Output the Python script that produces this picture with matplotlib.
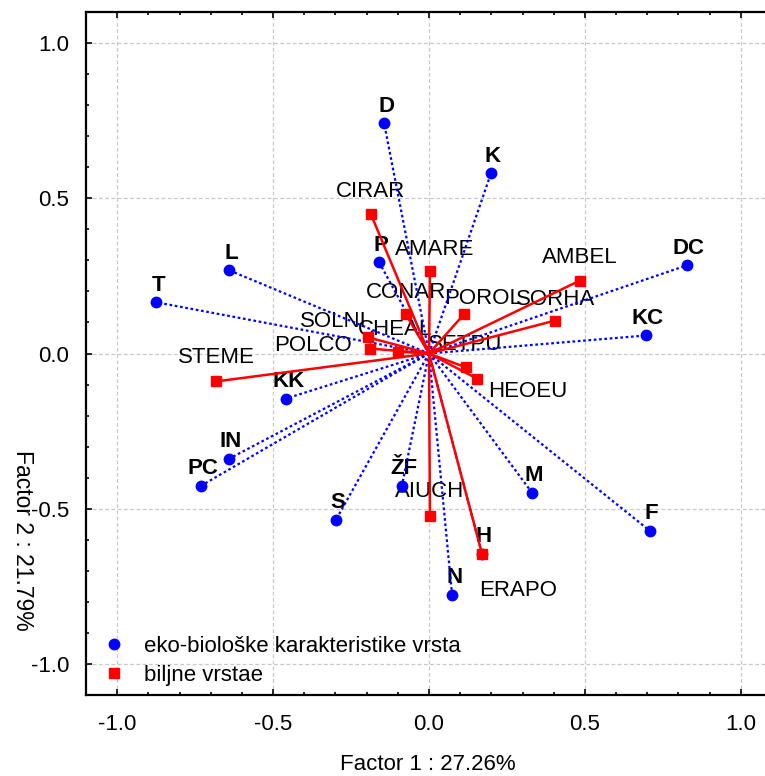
import matplotlib
matplotlib.use("Agg")
import matplotlib.pyplot as plt
from matplotlib.lines import Line2D
from matplotlib.ticker import MultipleLocator, FormatStrFormatter

plt.rcParams['font.family'] = ['Liberation Sans', 'DejaVu Sans']

# ------------------------------------------------------------------ data
# eko-biološke karakteristike vrsta (blue points)
eko_names = ["D", "K", "L", "T", "P", "DC", "KC", "KK", "IN", "PC",
             "S", "ŽF", "M", "F", "N", "H"]
eko_f1 = [-0.144, 0.199, -0.641, -0.875, -0.160, 0.827, 0.696, -0.458, -0.641, -0.731,
          -0.298, -0.087, 0.330, 0.708, 0.074, 0.170]
eko_f2 = [0.742, 0.581, 0.268, 0.165, 0.294, 0.284, 0.058, -0.145, -0.339, -0.426,
          -0.535, -0.426, -0.448, -0.571, -0.777, -0.645]

# biljne vrstae (red squares)
bilj_names = ["CIRAR", "AMARE", "AMBEL", "SORHA", "POROL", "CONAR", "SOLNI", "CHEAL",
              "POLCO", "STEME", "SETPU", "HEOEU", "AIUCH", "ERAPO"]
bilj_f1 = [-0.186, 0.003, 0.484, 0.404, 0.112, -0.074, -0.196, -0.099,
           -0.189, -0.683, 0.119, 0.154, 0.003, 0.170]
bilj_f2 = [0.448, 0.265, 0.235, 0.106, 0.126, 0.126, 0.052, 0.006,
           0.016, -0.090, -0.045, -0.081, -0.523, -0.645]

# label offsets (pixels, text centre relative to point) for the red labels
bilj_offsets = {"CIRAR": (-1, 23), "AMARE": (5, 22), "AMBEL": (0, 23), "SORHA": (1, 21),
                "POROL": (19, 16), "CONAR": (0, 22), "SOLNI": (-35, 16), "CHEAL": (-3, 22),
                "POLCO": (-57, 3), "STEME": (0, 24), "SETPU": (-1, 23), "HEOEU": (51, -13),
                "AIUCH": (0, 24), "ERAPO": (36, -37)}

BLUE = "#0000ff"
RED = "#ff0000"

# ------------------------------------------------------------------ figure
fig = plt.figure(figsize=(7.65, 7.76), dpi=100)
ax = fig.add_axes([86 / 765, 81 / 776, 686 / 765, 683 / 776])

for x, y in zip(eko_f1, eko_f2):
    ax.plot([0, x], [0, y], color=BLUE, lw=1.6, ls=(0, (1.2, 1.2)), zorder=3)
for x, y in zip(bilj_f1, bilj_f2):
    ax.plot([0, x], [0, y], color=RED, lw=1.8, zorder=4)

ax.plot(eko_f1, eko_f2, ls="none", marker="o", ms=7.5, color=BLUE, zorder=5)
ax.plot(bilj_f1, bilj_f2, ls="none", marker="s", ms=7.5, color=RED, zorder=6)

for n, x, y in zip(eko_names, eko_f1, eko_f2):
    ax.annotate(n, (x, y), xytext=(2, 17), textcoords="offset pixels",
                ha="center", va="center", fontsize=16, fontweight="bold", zorder=2)
for n, x, y in zip(bilj_names, bilj_f1, bilj_f2):
    ax.annotate(n, (x, y), xytext=bilj_offsets[n], textcoords="offset pixels",
                ha="center", va="center", fontsize=16, zorder=2)

ax.set_xlim(-1.1, 1.1)
ax.set_ylim(-1.1, 1.1)
for a in (ax.xaxis, ax.yaxis):
    a.set_major_locator(MultipleLocator(0.5))
    a.set_minor_locator(MultipleLocator(0.1))
    a.set_major_formatter(FormatStrFormatter("%.1f"))
ax.tick_params(which="both", direction="in", top=True, right=True, width=1.2, labelsize=16)
ax.tick_params(which="major", length=4)
ax.tick_params(which="minor", length=2.5)
ax.tick_params(axis="x", pad=14)
ax.tick_params(axis="y", pad=12)
for s in ax.spines.values():
    s.set_linewidth(1.6)
ax.grid(True, which="major", color="#c8c8c8", ls=(0, (3, 2)), lw=0.9, zorder=0)

handles = [Line2D([], [], ls="none", marker="o", ms=7.5, color=BLUE),
           Line2D([], [], ls="none", marker="s", ms=7.5, color=RED)]
ax.legend(handles, ["eko-biološke karakteristike vrsta", "biljne vrstae"],
          loc="lower left", bbox_to_anchor=(-0.005, -0.016), frameon=False, fontsize=16,
          handlelength=1.0, handletextpad=0.85, labelspacing=0.35)

fig.text(428 / 765, 1 - 764 / 776, "Factor 1 : 27.26%", ha="center", va="center", fontsize=16)
fig.text(22 / 765, 1 - 540 / 776, "Factor 2 : 21.79%", ha="center", va="center",
         rotation=-90, fontsize=16.5)

fig.savefig("out.png", dpi=100)
